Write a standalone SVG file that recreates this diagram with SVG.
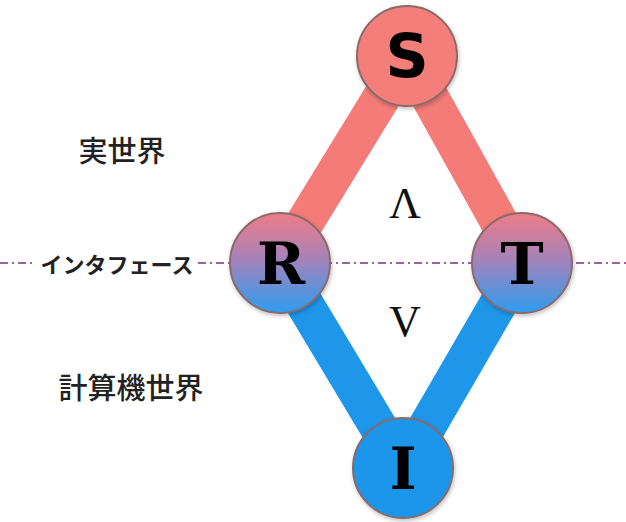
<svg xmlns="http://www.w3.org/2000/svg" width="626" height="522" viewBox="0 0 626 522">
<style>
.band{stroke-width:38;stroke-linecap:butt;fill:none}
.red{stroke:#F47B78}
.blue{stroke:#1E96EA}
.node{stroke:#8A6A6A;stroke-width:2}
.letter{font-family:"DejaVu Serif","Liberation Serif",serif;font-weight:bold;fill:#000;text-anchor:middle}
.label{font-family:"Noto Sans CJK JP",sans-serif;fill:#222;font-size:29px;font-weight:500;text-anchor:middle}
.sym{font-family:"Liberation Serif",serif;font-size:44px;fill:#111;text-anchor:middle}
</style>
<defs>
<linearGradient id="mix" x1="0" y1="0" x2="0" y2="1">
<stop offset="0" stop-color="#EE7C86"/>
<stop offset="0.45" stop-color="#A782B8"/>
<stop offset="1" stop-color="#2E9CF0"/>
</linearGradient>
<filter id="sh" x="-20%" y="-20%" width="140%" height="140%">
<feDropShadow dx="1" dy="2" stdDeviation="2" flood-color="#000" flood-opacity="0.25"/>
</filter>
</defs>
<rect width="626" height="522" fill="#fff"/>
<g id="connectors">
<line class="band red" x1="407" y1="56" x2="280" y2="263"/>
<line class="band red" x1="407" y1="56" x2="522" y2="263"/>
<line class="band blue" x1="280" y1="263" x2="403" y2="468"/>
<line class="band blue" x1="522" y1="263" x2="403" y2="468"/>
<line x1="0" y1="263" x2="626" y2="263" stroke="#A0609E" stroke-width="2" stroke-dasharray="8,4,2,4"/>
</g>
<g id="interface-label">
<rect x="36" y="250" width="162" height="26" fill="#fff"/>
<text class="label" x="117" y="273" style="font-size:22px;font-weight:bold">インタフェース</text>
</g>
<g id="real-world"><text class="label" x="122" y="162">実世界</text></g>
<g id="computer-world"><text class="label" x="131" y="399">計算機世界</text></g>
<g id="wedge"><text class="sym" x="405" y="218">Λ</text></g>
<g id="vee"><text class="sym" x="405" y="336">V</text></g>
<g id="S">
<circle class="node" cx="407" cy="56" r="50" fill="#F47E79" filter="url(#sh)"/>
<text class="letter" x="407" y="77" font-size="60" style="font-family:'DejaVu Sans',sans-serif">S</text>
</g>
<g id="R">
<circle class="node" cx="280" cy="263" r="50" fill="url(#mix)" filter="url(#sh)"/>
<text class="letter" x="281" y="284" font-size="58">R</text>
</g>
<g id="T">
<circle class="node" cx="522" cy="263" r="50" fill="url(#mix)" filter="url(#sh)"/>
<text class="letter" x="522" y="284" font-size="58">T</text>
</g>
<g id="I">
<circle class="node" cx="403" cy="468" r="50" fill="#1E96EA" filter="url(#sh)"/>
<text class="letter" x="403" y="489" font-size="58">I</text>
</g>
</svg>
